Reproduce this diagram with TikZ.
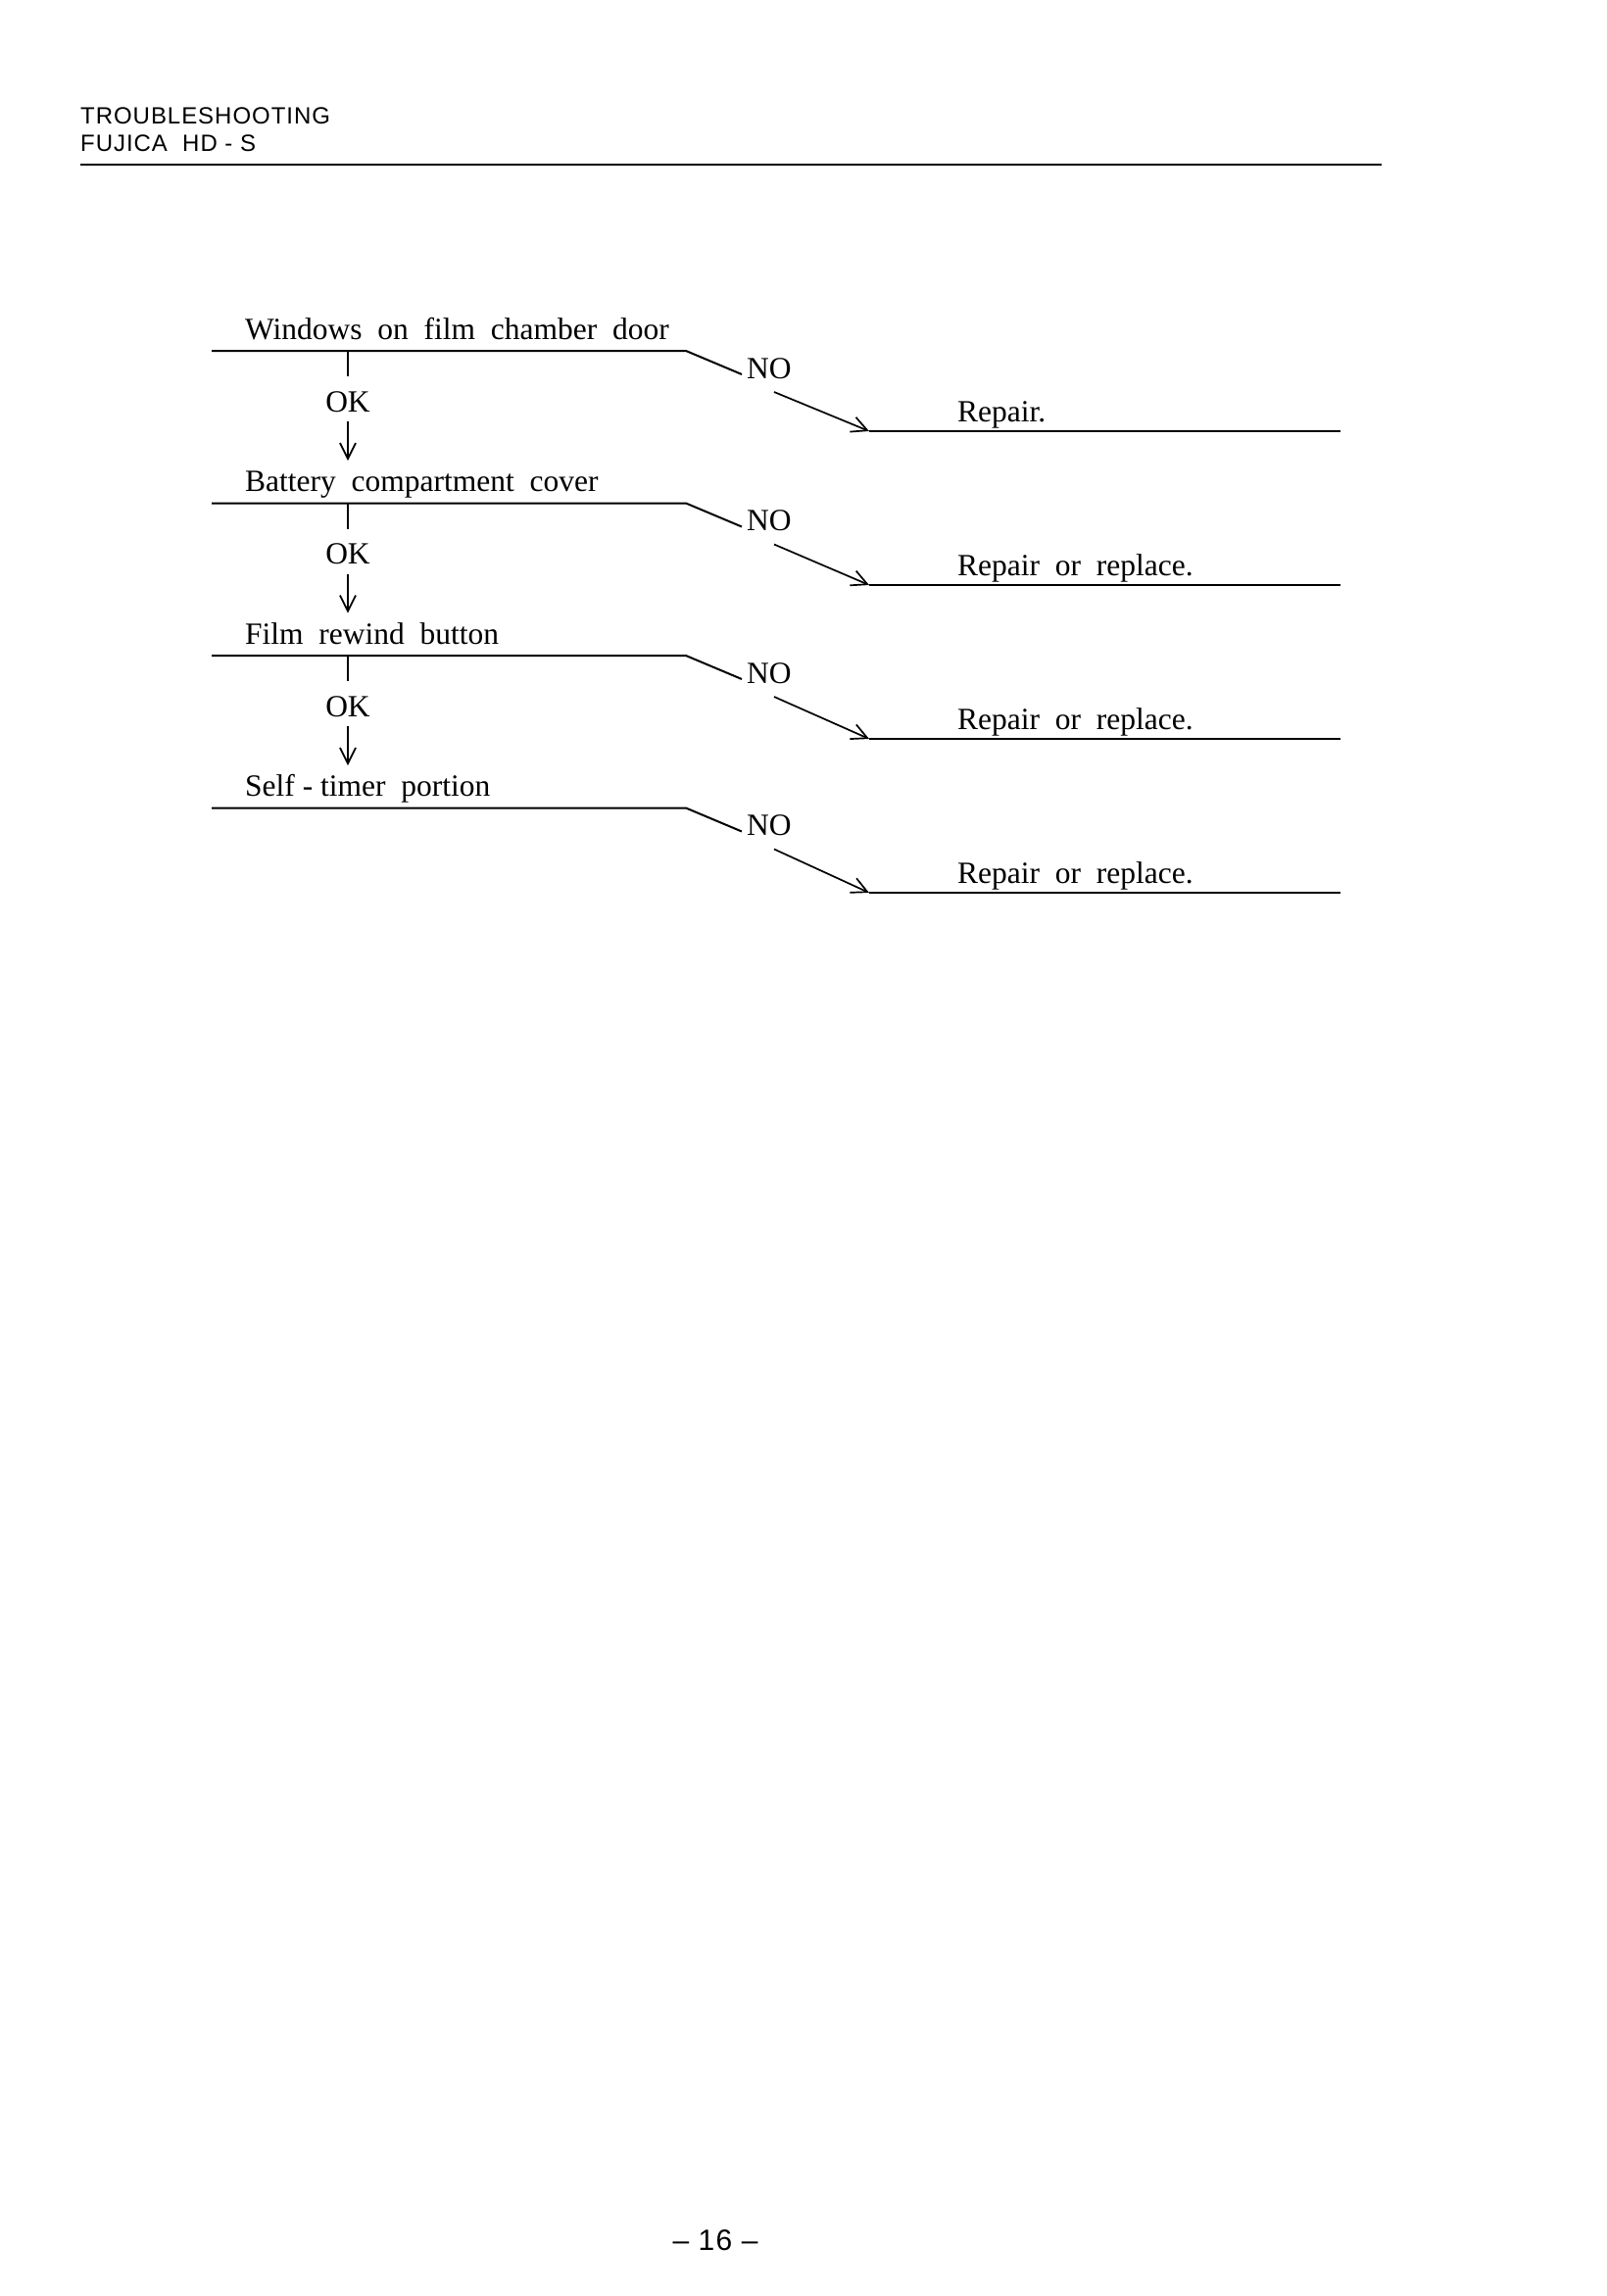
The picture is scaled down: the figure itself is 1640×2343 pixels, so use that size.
\documentclass[tikz,border=0pt]{standalone}
\usepackage{fontspec}
\usetikzlibrary{arrows.meta}
\setmainfont{Liberation Serif}
\newfontfamily\hdr[LetterSpace=4]{Liberation Sans}
\begin{document}
\begin{tikzpicture}[x=1pt,y=-1pt,
  lbl/.style={anchor=base west,inner sep=0pt,font=\fontsize{31.5}{34}\selectfont},
  ln/.style={line width=2pt},
  arr/.style={line width=1.7pt,-{Straight Barb[length=16pt,width=16pt,line width=1.7pt]}}]
\useasboundingbox[fill=white] (0,0) rectangle (1640,2343);
\node[lbl,font=\hdr\fontsize{24}{26}\selectfont] (h1) at (82,126) {TROUBLESHOOTING};
\node[lbl,font=\hdr\fontsize{24}{26}\selectfont] (h2) at (82,154) {FUJICA\ \ HD - S};
\coordinate (r1) at (82,168); \coordinate (r2) at (1410,168);
\draw[line width=2.2pt] (r1) -- (r2);
\foreach \i/\t/\r/\ok in {0/{Windows\ \ on\ \ film\ \ chamber\ \ door}/{Repair.}/1,
  1/{Battery\ \ compartment\ \ cover}/{Repair\ \ or\ \ replace.}/1,
  2/{Film\ \ rewind\ \ button}/{Repair\ \ or\ \ replace.}/1,
  3/{Self - timer\ \ portion}/{Repair\ \ or\ \ replace.}/0}{
  \pgfmathsetmacro\y{358+155.5*\i}
  \pgfmathsetmacro\yr{440+157*\i}
  \node[lbl] (t\i) at (250,\y-12) {\t};
  \coordinate (a\i) at (216,\y); \coordinate (b\i) at (700,\y);
  \coordinate (c\i) at (757,\y+24);
  \draw[ln] (a\i) -- (b\i) -- (c\i);
  \node[lbl] (no\i) at (762,\y+28) {NO};
  \coordinate (d\i) at (790,\y+42); \coordinate (e\i) at (887,\yr);
  \draw[arr] (d\i) -- (e\i);
  \coordinate (f\i) at (1368,\yr);
  \draw[ln] (e\i) -- (f\i);
  \node[lbl] (rp\i) at (977,\yr-10) {\r};
  \ifnum\ok=1
    \coordinate (v\i) at (355,\y); \coordinate (w\i) at (355,\y+26);
    \draw[ln] (v\i) -- (w\i);
    \node[lbl,anchor=base] (ok\i) at (355,\y+62) {OK};
    \coordinate (p\i) at (355,\y+72); \coordinate (q\i) at (355,\y+112);
    \draw[arr] (p\i) -- (q\i);
  \fi
}
\node[lbl,anchor=base,font=\hdr\fontsize{30}{32}\selectfont] (pg) at (730,2296) {– 16 –};
\end{tikzpicture}
\end{document}
